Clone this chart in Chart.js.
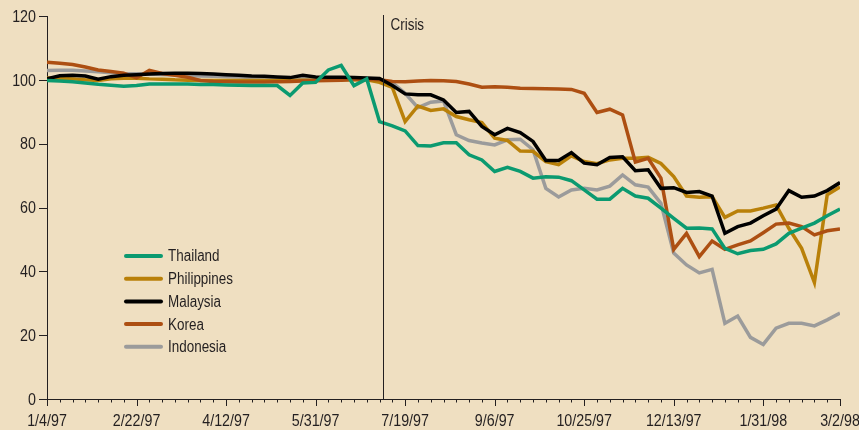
<!DOCTYPE html>
<html>
<head>
<meta charset="utf-8">
<script src="https://cdn.jsdelivr.net/npm/chart.js@4.4.1/dist/chart.umd.min.js"></script>
<style>
	body { margin: 0; background: #efdfc1; }
	#wrap { width: 859px; height: 430px; position: relative; }
</style>
</head>
<body>
<div id="wrap"><canvas id="lineChart"></canvas></div>
<script>
// weekly index, 0 = 1/4/97
const weeks = Array.from({ length: 63 }, (_, i) => i)
const tickWeeks = [0, 7, 14, 21, 28, 35, 42, 49, 56, 62]
const tickLabels = ['1/4/97', '2/22/97', '4/12/97', '5/31/97', '7/19/97', '9/6/97', '10/25/97', '12/13/97', '1/31/98', '3/2/98']
const yTicks = [0, 20, 40, 60, 80, 100, 120]
const crisisWeek = 26.3

const thailand = [99.8, 99.6, 99.4, 99.0, 98.6, 98.3, 98.0, 98.2, 98.7, 98.7, 98.7, 98.7, 98.5, 98.5, 98.4, 98.3,
	98.2, 98.2, 98.2, 95.1, 99.0, 99.2, 103.1, 104.5, 98.2, 100.3, 86.9, 85.6, 84.0, 79.4, 79.3, 80.3,
	80.3, 76.5, 74.9, 71.3, 72.6, 71.3, 69.2, 69.6, 69.5, 68.4, 65.5, 62.6, 62.6, 66.0, 63.6, 62.9,
	59.8, 56.6, 53.5, 53.6, 53.3, 47.2, 45.5, 46.5, 46.9, 48.6, 51.9, 53.5, 55.1, 57.4, 59.5]
const philippines = [100.6, 100.5, 100.3, 100.0, 99.8, 100.3, 100.5, 100.5, 100.3, 100.2, 100.0, 99.9, 99.8, 99.8, 99.8, 99.8,
	99.8, 99.8, 99.8, 99.8, 99.9, 99.9, 99.9, 100.0, 100.0, 100.0, 99.2, 97.6, 86.9, 91.8, 90.4, 90.9,
	88.5, 87.5, 86.6, 81.7, 81.0, 77.7, 77.6, 74.4, 73.4, 76.2, 74.4, 73.7, 74.9, 75.4, 75.4, 75.7,
	73.8, 69.7, 63.6, 63.2, 63.4, 56.9, 58.9, 58.9, 59.8, 60.8, 53.5, 47.2, 36.5, 64.0, 66.4]
const malaysia = [100.3, 101.3, 101.4, 101.2, 100.2, 101.0, 101.4, 101.6, 101.8, 102.0, 102.1, 102.1, 102.0, 101.8, 101.6, 101.4,
	101.2, 101.1, 100.9, 100.7, 101.4, 100.9, 100.8, 100.8, 100.7, 100.6, 100.4, 98.2, 95.6, 95.3, 95.3, 93.7,
	89.8, 90.1, 85.4, 82.8, 84.8, 83.5, 80.7, 74.7, 74.7, 77.2, 73.9, 73.4, 75.7, 75.9, 71.5, 71.8,
	66.0, 66.2, 64.7, 65.0, 63.6, 51.9, 54.0, 55.1, 57.4, 59.5, 65.3, 63.2, 63.6, 65.3, 67.8]
const korea = [105.5, 105.2, 104.8, 104.0, 103.1, 102.6, 102.1, 100.6, 103.0, 102.0, 101.4, 100.8, 99.8, 99.5, 99.4, 99.3,
	99.3, 99.3, 99.4, 99.5, 99.6, 99.7, 99.8, 99.9, 100.1, 100.2, 100.0, 99.5, 99.4, 99.6, 99.8, 99.7,
	99.5, 98.7, 97.7, 97.8, 97.7, 97.4, 97.3, 97.2, 97.1, 97.0, 95.8, 89.8, 90.8, 89.0, 74.2, 75.4,
	69.2, 46.9, 51.9, 44.6, 49.5, 46.9, 48.3, 49.5, 52.1, 54.8, 55.1, 54.0, 51.4, 52.7, 53.3]
const indonesia = [102.9, 103.0, 103.0, 102.8, 102.5, 102.2, 102.0, 101.9, 101.8, 101.7, 101.5, 101.3, 101.2, 101.1, 101.0, 100.9,
	100.7, 100.5, 100.4, 100.3, 100.3, 100.3, 100.3, 100.3, 100.2, 100.2, 100.0, 99.1, 95.8, 91.3, 93.0, 93.4,
	82.8, 81.0, 80.2, 79.6, 81.2, 81.4, 78.1, 66.0, 63.3, 65.5, 66.0, 65.5, 66.7, 70.2, 67.1, 66.4,
	61.3, 45.7, 42.0, 39.5, 40.6, 23.7, 26.0, 19.3, 17.1, 22.2, 23.7, 23.7, 22.9, 24.8, 26.9]

const fontFamily = "'Liberation Sans', Arial, sans-serif"
const textColor = '#231f20'
const squeeze = 0.84  // no narrow font here, so squeeze text sideways

function series(label, data, color, order) {
	return {
		label: label,
		data: data,
		borderColor: color,
		backgroundColor: color,
		borderWidth: 3.5,
		pointRadius: 0,
		tension: 0,
		order: order
	}
}

function narrowText(c, text, x, y) {
	c.save()
	c.translate(x, y)
	c.scale(squeeze, 1)
	c.fillText(text, 0, 0)
	c.restore()
}

// x ticks, axis labels, crisis marker and legend
const extras = {
	id: 'extras',
	afterDraw(chart) {
		const c = chart.ctx
		const xs = chart.scales.x
		const ys = chart.scales.y
		const area = chart.chartArea
		c.save()
		c.strokeStyle = textColor
		c.fillStyle = textColor
		c.lineWidth = 1
		weeks.forEach(w => {
			const x = Math.round(xs.getPixelForValue(w)) + 0.5
			const len = tickWeeks.includes(w) ? 7 : 3.5
			c.beginPath()
			c.moveTo(x, area.bottom)
			c.lineTo(x, area.bottom + len)
			c.stroke()
		})
		c.font = '17px ' + fontFamily
		c.textAlign = 'center'
		c.textBaseline = 'alphabetic'
		tickWeeks.forEach((w, i) => {
			narrowText(c, tickLabels[i], xs.getPixelForValue(w), area.bottom + 27)
		})

		c.textAlign = 'right'
		c.textBaseline = 'middle'
		yTicks.forEach(v => {
			narrowText(c, String(v), area.left - 11, ys.getPixelForValue(v) + 1)
		})

		// crisis line
		const cx = Math.round(xs.getPixelForValue(crisisWeek)) + 0.5
		c.beginPath()
		c.moveTo(cx, area.top - 1)
		c.lineTo(cx, area.bottom)
		c.stroke()
		c.textAlign = 'left'
		c.textBaseline = 'alphabetic'
		c.font = '16px ' + fontFamily
		narrowText(c, 'Crisis', cx + 7, area.top + 14)

		// legend
		chart.data.datasets.forEach((ds, i) => {
			const y = 256 + i * 22.7
			c.strokeStyle = ds.borderColor
			c.lineWidth = 4
			c.lineCap = 'round'
			c.beginPath()
			c.moveTo(126, y)
			c.lineTo(161, y)
			c.stroke()
			c.textBaseline = 'middle'
			narrowText(c, ds.label, 168, y + 1)
		})
		c.restore()
	}
}

const ctx = document.getElementById('lineChart').getContext('2d')

const chart = new Chart(ctx, {
	type: 'line',
	data: {
		labels: weeks,
		datasets: [
			series('Thailand', thailand, '#0b9a70', 1),
			series('Philippines', philippines, '#b98009', 4),
			series('Malaysia', malaysia, '#000000', 2),
			series('Korea', korea, '#ad4f12', 3),
			series('Indonesia', indonesia, '#9b9b9b', 5)
		]
	},
	options: {
		responsive: true,
		maintainAspectRatio: false,
		animation: false,
		layout: { padding: { top: 16, right: 19, left: 0, bottom: 0 } },
		plugins: {
			legend: { display: false },
			tooltip: { enabled: false }
		},
		scales: {
			x: {
				type: 'linear',
				min: 0,
				max: 62,
				ticks: { display: false },
				grid: { display: false },
				border: { display: true, color: textColor, width: 1 },
				afterFit: s => { s.height = 31 }
			},
			y: {
				min: 0,
				max: 120,
				afterBuildTicks: s => { s.ticks = yTicks.map(v => ({ value: v })) },
				ticks: { display: false },
				grid: { drawOnChartArea: false, drawTicks: false },
				border: { display: true, color: textColor, width: 1 },
				afterFit: s => { s.width = 47 }
			}
		}
	},
	plugins: [{
		id: 'yTickMarks',
		afterDraw(chart) {
			const c = chart.ctx
			const area = chart.chartArea
			c.save()
			c.strokeStyle = textColor
			c.lineWidth = 1
			yTicks.forEach(v => {
				const y = Math.round(chart.scales.y.getPixelForValue(v)) + 0.5
				c.beginPath()
				c.moveTo(area.left - 8, y)
				c.lineTo(area.left, y)
				c.stroke()
			})
			c.restore()
		}
	}, extras]
})
</script>
</body>
</html>
